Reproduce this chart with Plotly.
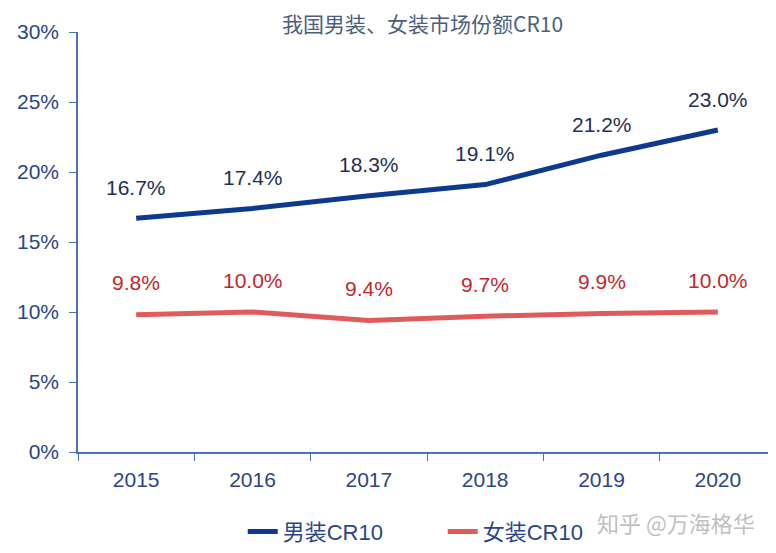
import plotly.graph_objects as go

years = ["2015", "2016", "2017", "2018", "2019", "2020"]
men_cr10 = [16.7, 17.4, 18.3, 19.1, 21.2, 23.0]
women_cr10 = [9.8, 10.0, 9.4, 9.7, 9.9, 10.0]
y_ticks = [0, 5, 10, 15, 20, 25, 30]

font_family = "Arial, Liberation Sans, Noto Sans CJK SC, sans-serif"
axis_col = "#4A72B8"
tick_col = "#2A4587"
men_col = "#0D3A8E"
women_col = "#E05C5C"

# the page body adds an 8px offset; compensate in size/margins
OFF = 8

fig = go.Figure()
fig.add_trace(go.Scatter(x=years, y=men_cr10, mode="lines", name="男装CR10",
                         line=dict(color=men_col, width=5)))
fig.add_trace(go.Scatter(x=years, y=women_cr10, mode="lines", name="女装CR10",
                         line=dict(color=women_col, width=5)))

for i, v in enumerate(men_cr10):
    fig.add_annotation(x=i, y=v, text=f"{v:.1f}%", showarrow=False, yshift=31,
                       font=dict(size=21, color="#1F2F55", family=font_family))
for i, v in enumerate(women_cr10):
    fig.add_annotation(x=i, y=v, text=f"{v:.1f}%", showarrow=False, yshift=32,
                       font=dict(size=21, color="#C0262C", family=font_family))

fig.add_annotation(x=0.494, y=1.0, xref="paper", yref="paper", yanchor="middle", yshift=9,
                   text="我国男装、女装市场份额CR10", showarrow=False,
                   font=dict(size=21, color="#4B5E80", family="Noto Sans CJK SC"))
fig.add_annotation(x=1.0, y=0, xref="paper", yref="paper", showarrow=False,
                   text="知乎 @万海格华", xanchor="right", yanchor="middle",
                   xshift=-19, yshift=-70,
                   font=dict(size=22, color="#BFBFBF", family="Noto Sans CJK SC"))

fig.update_layout(
    width=776 - OFF, height=553 - OFF,
    margin=dict(l=78 - OFF, r=0, t=32 - OFF, b=101, autoexpand=False),
    paper_bgcolor="white", plot_bgcolor="white",
    showlegend=True,
    legend=dict(orientation="h", x=0.236, xanchor="left", y=-0.19, yanchor="middle",
                yref="paper", font=dict(size=22, color=tick_col, family=font_family),
                entrywidth=155, entrywidthmode="pixels", tracegroupgap=0),
    xaxis=dict(type="category", tickson="boundaries", showline=True, linecolor=axis_col,
               linewidth=1.5, ticks="outside", ticklen=7, tickcolor=axis_col,
               showgrid=False, tickfont=dict(size=21, color=tick_col, family=font_family),
               ticklabelstandoff=8,
               range=[-0.5, 5.5], automargin=False),
    yaxis=dict(range=[0, 30], tickvals=y_ticks, ticktext=[f"{t}%" for t in y_ticks],
               showline=True, linecolor=axis_col, linewidth=1.5, ticks="outside",
               ticklen=7, tickcolor=axis_col, showgrid=False, zeroline=False,
               tickfont=dict(size=21, color=tick_col, family=font_family),
               ticklabelstandoff=6,
               automargin=False),
)

fig.write_html("out.html")
